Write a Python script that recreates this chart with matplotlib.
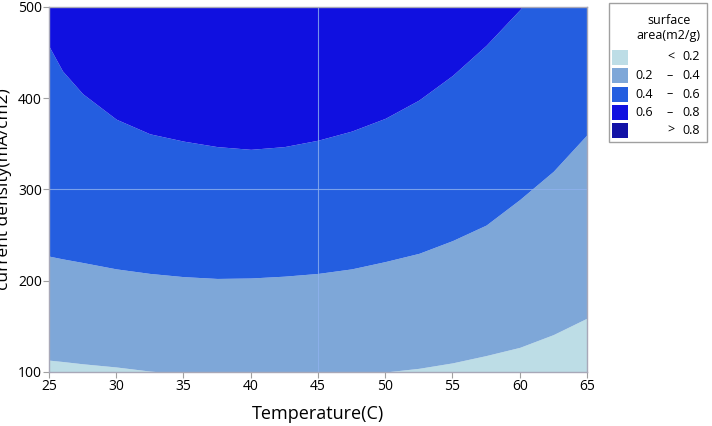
import matplotlib
matplotlib.use("Agg")
import matplotlib.pyplot as plt
from matplotlib.patches import Rectangle

plt.rcParams['font.family'] = ['Open Sans', 'DejaVu Sans']

# contour boundaries (current density at each temperature)
temp = [25, 26, 27.5, 30, 32.5, 35, 37.5, 40, 42.5, 45, 47.5, 50, 52.5, 55, 57.5, 60, 62.5, 65]
c02 = [113, 111.5, 109, 105.5, 101, 98, 96, 95, 95, 96, 98, 100, 104, 110, 118, 127, 141, 159]
c04 = [227, 224, 220, 213, 208, 204.5, 202.5, 203, 205, 208, 213, 221, 230, 244, 261, 289, 320, 360]
c06 = [457, 430, 405, 377, 361, 353, 347, 344, 347, 354, 364, 378, 398, 425, 458, 497, 540, 590]

levels = ['<  0.2', '0.2 – 0.4', '0.4 – 0.6', '0.6 – 0.8', '>  0.8']
colors = ['#bddde6', '#7ea7d8', '#245ee0', '#1010e0', '#1212a6']

fig = plt.figure(figsize=(7.12, 4.26), dpi=100)
ax = fig.add_axes([0.0688, 0.1268, 0.7556, 0.8568])

y_lo, y_hi = 100, 500
ax.fill_between(temp, y_lo, c02, color=colors[0], lw=0)
ax.fill_between(temp, c02, c04, color=colors[1], lw=0)
ax.fill_between(temp, c04, c06, color=colors[2], lw=0)
ax.fill_between(temp, c06, 700, color=colors[3], lw=0)

ax.set_xlim(25, 65)
ax.set_ylim(y_lo, y_hi)
ax.set_xticks(range(25, 66, 5))
ax.set_yticks(range(100, 501, 100))

ax.axvline(45, color='#8fb2ee', lw=0.8, alpha=0.8)
ax.axhline(300, color='#8fb2ee', lw=0.8, alpha=0.8)

for s in ax.spines.values():
    s.set_color('#a8a8b8')
    s.set_linewidth(1)
ax.tick_params(length=4, color='#a0a0a0', labelsize=10, pad=1)

ax.set_xlabel('Temperature(C)', fontsize=13, labelpad=8)
ax.set_ylabel('current density(mA/cm2)', fontsize=12.5)
ax.yaxis.set_label_coords(-0.068, 0.5)

# legend drawn by hand so the columns line up
fig.add_artist(Rectangle((609 / 712, 1 - 142 / 426), 98 / 712, 139 / 426,
                         transform=fig.transFigure, fill=False,
                         edgecolor='#a0a0a0', lw=1))
fig.text(669 / 712, 1 - 20 / 426, 'surface', ha='center', va='center', fontsize=9)
fig.text(668 / 712, 1 - 35 / 426, 'area(m2/g)', ha='center', va='center', fontsize=9)
rows = [57, 75.5, 94, 112.5, 130]
for i, yc in enumerate(rows):
    fig.add_artist(Rectangle((612 / 712, 1 - (yc + 7.5) / 426), 16 / 712, 15 / 426,
                             transform=fig.transFigure, color=colors[i], lw=0))
    parts = levels[i].split()
    fy = 1 - yc / 426
    if len(parts) == 3:
        fig.text(635 / 712, fy, parts[0], ha='left', va='center', fontsize=9)
        fig.text(670 / 712, fy, parts[1], ha='center', va='center', fontsize=9)
        fig.text(700 / 712, fy, parts[2], ha='right', va='center', fontsize=9)
    else:
        fig.text(671 / 712, fy, parts[0], ha='center', va='center', fontsize=9)
        fig.text(700 / 712, fy, parts[1], ha='right', va='center', fontsize=9)

fig.savefig('out.png', dpi=100)
